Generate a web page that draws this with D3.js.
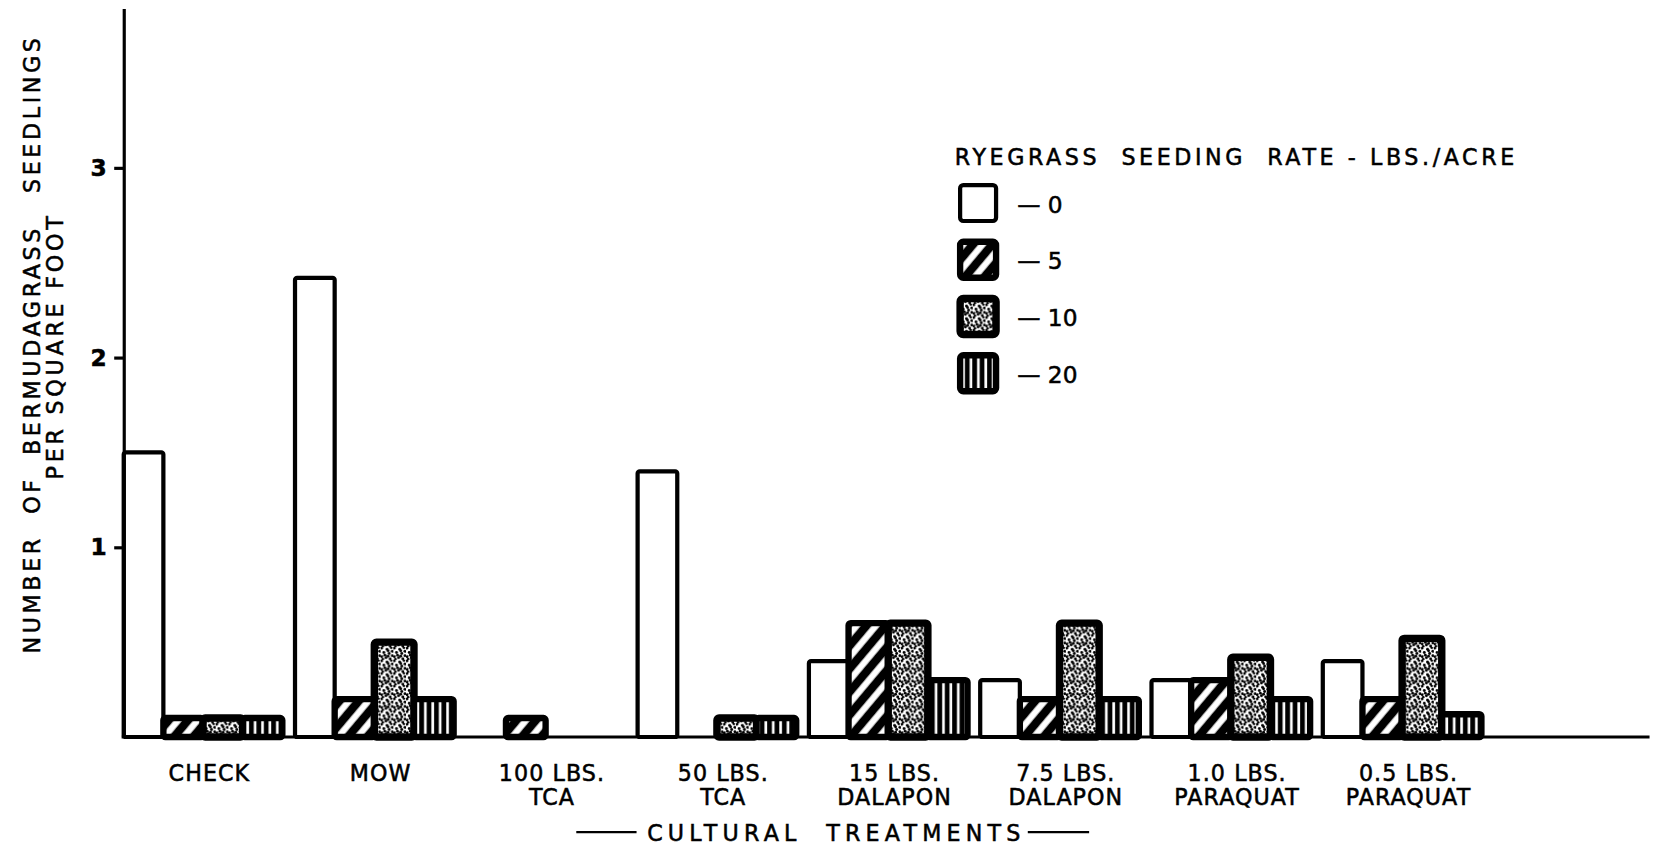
<!DOCTYPE html>
<html>
<head>
<meta charset="utf-8">
<script src="https://cdn.jsdelivr.net/npm/d3@7"></script>
<style>
  body { margin: 0; background: #fff; }
  text { font-family: "DejaVu Sans", "Liberation Sans", sans-serif; fill: #000; stroke: #000; stroke-width: 0.5px; }
</style>
</head>
<body>
<svg width="1658" height="850"></svg>
<script>
// treatments and seeding rates
const treatments = ["CHECK", "MOW", "100 LBS.|TCA", "50 LBS.|TCA", "15 LBS.|DALAPON",
                    "7.5 LBS.|DALAPON", "1.0 LBS.|PARAQUAT", "0.5 LBS.|PARAQUAT"];
const rates = ["0", "5", "10", "20"];

// seedlings per square foot, one array per seeding rate
const rate0  = [1.5, 2.42, 0,   1.4, 0.4, 0.3, 0.3, 0.4];
const rate5  = [0.1, 0.2,  0.1, 0,   0.6, 0.2, 0.3, 0.2];
const rate10 = [0.1, 0.5,  0,   0.1, 0.6, 0.6, 0.42, 0.52];
const rate20 = [0.1, 0.2,  0,   0.1, 0.3, 0.2, 0.2, 0.12];
const yTicks = [1, 2, 3];

const series = [rate0, rate5, rate10, rate20];
const data = [];
treatments.forEach((t, i) => {
  rates.forEach((r, j) => data.push({ t: t, r: r, v: series[j][i] }));
});

const svg = d3.select("svg");
const g = svg.append("g").attr("transform", "scale(1.0574)");

const x = d3.scaleBand().domain(treatments).range([117, 1401])
  .paddingInner(0.074).paddingOuter(0).align(0);
const xs = d3.scaleBand().domain(rates).range([0, x.bandwidth()]);
const y = d3.scaleLinear().domain([0, 3.84]).range([697, 8]);

// fill patterns
const defs = svg.append("defs");

const hatch = defs.append("pattern").attr("id", "hatch")
  .attr("patternUnits", "userSpaceOnUse").attr("width", 14).attr("height", 14)
  .attr("patternTransform", "rotate(40)");
hatch.append("rect").attr("width", 14).attr("height", 14).attr("fill", "#000");
hatch.append("rect").attr("x", 4).attr("width", 6).attr("height", 14).attr("fill", "#fff");

const stip = defs.append("pattern").attr("id", "stipple")
  .attr("patternUnits", "userSpaceOnUse").attr("width", 12).attr("height", 12);
stip.append("rect").attr("width", 12).attr("height", 12).attr("fill", "#fff");
const dots = [[1,1],[6,2],[10,0.5],[3,5],[8,6],[11,8],[1,9],[5,10],[9,11],[4,7.5],[7,3.5],[11,4],[2,11.5],[7,8.5]];
stip.selectAll("circle").data(dots).join("circle")
  .attr("cx", d => d[0]).attr("cy", d => d[1]).attr("r", 1.35).attr("fill", "#000");

const vert = defs.append("pattern").attr("id", "vstripe")
  .attr("patternUnits", "userSpaceOnUse").attr("width", 7).attr("height", 10);
vert.append("rect").attr("width", 7).attr("height", 10).attr("fill", "#000");
vert.append("rect").attr("x", 2).attr("width", 2.5).attr("height", 10).attr("fill", "#fff");

const fills = { "0": "#fff", "5": "url(#hatch)", "10": "url(#stipple)", "20": "url(#vstripe)" };
const strokeW = { "0": 4, "5": 6, "10": 7, "20": 6 };

// bars
g.append("g").selectAll("rect")
  .data(data.filter(d => d.v > 0))
  .join("rect")
  .attr("x", d => x(d.t) + xs(d.r))
  .attr("y", d => y(d.v))
  .attr("width", xs.bandwidth())
  .attr("height", d => y(0) - y(d.v))
  .attr("rx", 2)
  .attr("fill", d => fills[d.r])
  .attr("stroke", "#000")
  .attr("stroke-width", d => strokeW[d.r]);

// baseline
g.append("line").attr("x1", 115).attr("x2", 1560)
  .attr("y1", y(0)).attr("y2", y(0))
  .attr("stroke", "#000").attr("stroke-width", 3);

// y axis
const yAxis = g.append("g").attr("transform", "translate(117,0)")
  .call(d3.axisLeft(y).tickValues(yTicks).tickFormat(d3.format("d")).tickSize(9).tickSizeOuter(0));
yAxis.select(".domain").attr("stroke-width", 3);
yAxis.selectAll(".tick line").attr("stroke-width", 3);
yAxis.selectAll(".tick text").attr("x", -16).style("font-size", "22px")
  .style("font-weight", "bold").style("font-family", "DejaVu Sans, sans-serif");

// y label
g.append("text").attr("transform", "translate(38,327) rotate(-90)")
  .attr("text-anchor", "middle").style("font-size", "21px")
  .attr("textLength", 582).attr("lengthAdjust", "spacing")
  .attr("xml:space", "preserve")
  .text("NUMBER  OF  BERMUDAGRASS   SEEDLINGS");
g.append("text").attr("transform", "translate(60,329) rotate(-90)")
  .attr("text-anchor", "middle").style("font-size", "21px")
  .attr("textLength", 249).attr("lengthAdjust", "spacing")
  .text("PER SQUARE FOOT");

// x labels
const xl = g.append("g").selectAll("text").data(treatments).join("text")
  .attr("x", d => x(d) + x.bandwidth() / 2 + 6)
  .attr("y", 739)
  .attr("text-anchor", "middle")
  .style("font-size", "21px").style("letter-spacing", "1px");
xl.selectAll("tspan").data(d => d.split("|")).join("tspan")
  .attr("x", function() { return d3.select(this.parentNode).attr("x"); })
  .attr("dy", (d, i) => i === 0 ? 0 : 22)
  .text(d => d);

// x title
g.append("line").attr("x1", 545).attr("x2", 602).attr("y1", 787).attr("y2", 787)
  .attr("stroke", "#000").attr("stroke-width", 2);
g.append("line").attr("x1", 972).attr("x2", 1030).attr("y1", 787).attr("y2", 787)
  .attr("stroke", "#000").attr("stroke-width", 2);
g.append("text").attr("x", 612).attr("y", 795)
  .style("font-size", "21px").attr("xml:space", "preserve")
  .attr("textLength", 353).attr("lengthAdjust", "spacing")
  .text("CULTURAL  TREATMENTS");

// legend
const leg = g.append("g");
leg.append("text").attr("x", 903).attr("y", 156)
  .style("font-size", "21px").attr("xml:space", "preserve")
  .attr("textLength", 529).attr("lengthAdjust", "spacing")
  .text("RYEGRASS  SEEDING  RATE - LBS./ACRE");
const legY = d3.scalePoint().domain(rates).range([192, 353]);
const li = leg.selectAll("g.item").data(rates).join("g").attr("class", "item")
  .attr("transform", d => `translate(908,${legY(d)})`);
li.append("rect").attr("x", 0).attr("y", -17).attr("width", 34).attr("height", 34)
  .attr("rx", 3).attr("fill", d => fills[d]).attr("stroke", "#000")
  .attr("stroke-width", d => strokeW[d]);
li.append("text").attr("x", 54).attr("y", 9)
  .style("font-size", "22px").attr("xml:space", "preserve")
  .text(d => "— " + d);
</script>
</body>
</html>
